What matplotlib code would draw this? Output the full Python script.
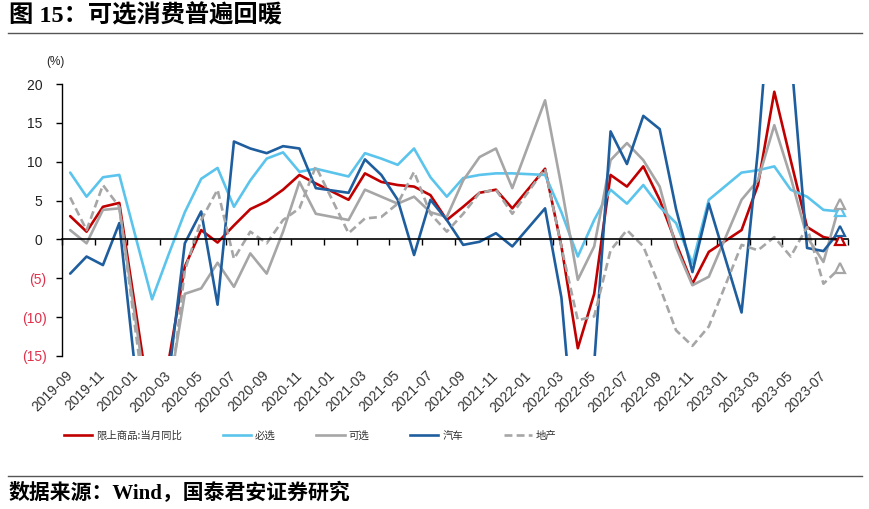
import matplotlib
matplotlib.use("Agg")
import matplotlib.pyplot as plt
from matplotlib.lines import Line2D
import numpy as np

# monthly data, 2019-09 .. 2023-08 (January is empty: Jan-Feb reported together)
months = []
for y in range(2019, 2024):
    for m in range(1, 13):
        if (y == 2019 and m < 9) or (y == 2023 and m > 8):
            continue
        months.append(f"{y}-{m:02d}")

retail = [3.0, 1.0, 4.2, 4.7, None, -23.0, -15.8, -3.5, 1.2, -0.4, 1.8, 3.9,
          4.9, 6.4, 8.3, 7.2, None, 5.1, 8.5, 7.4, 7.0, 6.8, 5.7, 2.5,
          4.2, 6.0, 6.4, 4.0, None, 9.1, -0.9, -14.0, -7.0, 8.3, 6.8, 9.4,
          5.1, -0.5, -5.7, -1.6, None, 1.2, 7.0, 19.0, 10.2, 1.6, 0.3, -0.1]
essential = [8.6, 5.5, 8.0, 8.3, None, -7.7, -2.0, 3.5, 7.8, 9.2, 4.2, 7.6,
             10.4, 11.2, 8.7, 9.1, None, 8.1, 11.1, 10.4, 9.6, 11.7, 8.0, 5.5,
             7.9, 8.3, 8.5, 8.5, None, 8.3, 3.5, -2.2, 2.5, 6.4, 4.6, 7.0,
             4.2, 2.1, -3.1, 5.1, None, 8.6, 8.9, 9.4, 6.4, 5.5, 3.8, 3.6]
optional = [1.2, -0.5, 3.8, 4.0, None, -25.0, -20.0, -7.0, -6.3, -3.0, -6.1, -1.8,
            -4.4, 1.0, 7.4, 3.3, None, 2.5, 6.4, 5.5, 4.6, 5.5, 3.5, 2.9,
            7.6, 10.6, 11.7, 6.6, None, 17.9, 6.8, -5.2, -0.9, 10.2, 12.4, 10.2,
            6.8, -1.0, -5.9, -4.8, None, 5.1, 7.6, 14.7, 8.0, 0.3, -2.9, 4.6]
auto = [-4.4, -2.2, -3.3, 2.1, None, -37.0, -18.0, -0.5, 3.6, -8.4, 12.6, 11.7,
        11.1, 12.0, 11.7, 6.6, None, 6.0, 10.3, 8.3, 5.1, -2.0, 5.1, 2.5,
        -0.7, -0.3, 0.8, -0.9, None, 4.0, -7.5, -31.6, -16.0, 13.9, 9.7, 15.9,
        14.2, 3.9, -4.2, 4.6, None, -9.4, 11.5, 38.0, 24.2, -1.1, -1.5, 1.1]
estate = [5.4, 1.2, 7.0, 4.2, None, -28.0, -22.0, -4.0, 2.5, 6.4, -2.5, 1.0,
          -0.5, 2.5, 4.0, 9.4, None, 0.8, 2.7, 2.9, 4.6, 8.7, 3.3, 1.0,
          3.3, 6.0, 6.4, 3.3, None, 9.1, -1.0, -10.4, -9.9, -1.4, 1.2, -0.9,
          -6.1, -11.7, -13.7, -11.2, None, -0.7, -1.4, 0.3, -2.2, 1.6, -5.7, -3.7]

names = ["限上商品:当月同比", "必选", "可选", "汽车", "地产"]
colors = ["#C00000", "#5BC4EC", "#A6A6A6", "#1F5E9E", "#A6A6A6"]
yticks = [20, 15, 10, 5, 0, -5, -10, -15]

cjk = ["Noto Sans CJK SC", "DejaVu Sans"]
latin = "Liberation Sans"

fig = plt.figure(figsize=(8.7, 5.09), dpi=100)
W, H = 870, 509
ax = fig.add_axes([62 / W, 1 - 356 / H, (848 - 62) / W, (356 - 84) / H])

xs = np.arange(len(months)) + 0.5
series = [retail, essential, optional, auto, estate]
for vals, name, col in zip(series, names, colors):
    v = np.array([np.nan if a is None else a for a in vals], dtype=float)
    ok = ~np.isnan(v)
    ls = (0, (3, 1.6)) if name == "地产" else "-"
    ax.plot(xs[ok], v[ok], color=col, lw=1.9, ls=ls, label=name,
            solid_joinstyle="round", solid_capstyle="round")
    ax.plot(xs[-1], v[-1], marker="^", ms=7.5, mfc="white", mec=col, mew=1.6,
            ls="none", zorder=4)

ax.set_xlim(0, len(months))
ax.set_ylim(-15, 20)

for s in ["top", "right"]:
    ax.spines[s].set_visible(False)
ax.spines["bottom"].set_position(("data", 0))
ax.spines["bottom"].set_linewidth(1.2)
ax.spines["left"].set_linewidth(1.0)

ax.set_xticks(np.arange(0, len(months) + 1, 2))
ax.tick_params(axis="x", direction="out", length=4, width=1, labelbottom=False)

ylabels = [f"{t} " if t >= 0 else f"({-t})" for t in yticks]
ax.set_yticks(yticks, ylabels)
ax.tick_params(axis="y", direction="out", length=4, width=1, pad=7,
               labelsize=10)
for lab, t in zip(ax.get_yticklabels(), yticks):
    lab.set_fontfamily(latin)
    lab.set_color("#E0304A" if t < 0 else "#222222")

sec = ax.secondary_xaxis("bottom")
sec.spines["bottom"].set_visible(False)
sec.set_xticks(xs[::2], months[::2])
sec.tick_params(length=0, pad=12.5, labelsize=10, labelcolor="#333333")
for lab in sec.get_xticklabels():
    lab.set_fontfamily(latin)
    lab.set_rotation(45)
    lab.set_ha("right")
    lab.set_va("center")
    lab.set_rotation_mode("anchor")

fig.text(55 / W, 1 - 62 / H, "(%)", ha="center", va="center", fontsize=8.5,
         family=latin, color="#222222")

handles = [Line2D([], [], color=c, lw=1.9,
                  ls=((0, (3, 1.6)) if n == "地产" else "-"))
           for n, c in zip(names, colors)]
fig.legend(handles, names, loc="center left", bbox_to_anchor=(64 / W, 1 - 436 / H),
           ncol=5, frameon=False, prop={"family": cjk, "size": 7.5},
           handlelength=2.7, handletextpad=0.4, columnspacing=3.9,
           borderpad=0, borderaxespad=0, labelcolor="#333333")

fig.text(9 / W, 1 - 16 / H, "图 15：可选消费普遍回暖", ha="left", va="center",
         fontsize=17.5, fontweight="bold", family=["Liberation Serif", "Noto Sans CJK SC"])
fig.add_artist(Line2D([8 / W, 862 / W], [1 - 33 / H, 1 - 33 / H], color="#555555", lw=1))
fig.add_artist(Line2D([8 / W, 862 / W], [1 - 476 / H, 1 - 476 / H], color="#555555", lw=1))
fig.text(9 / W, 1 - 493 / H, "数据来源：Wind，国泰君安证券研究", ha="left", va="center",
         fontsize=15, fontweight="bold", family=["Liberation Serif", "Noto Sans CJK SC"])

fig.savefig("out.png", dpi=100)
